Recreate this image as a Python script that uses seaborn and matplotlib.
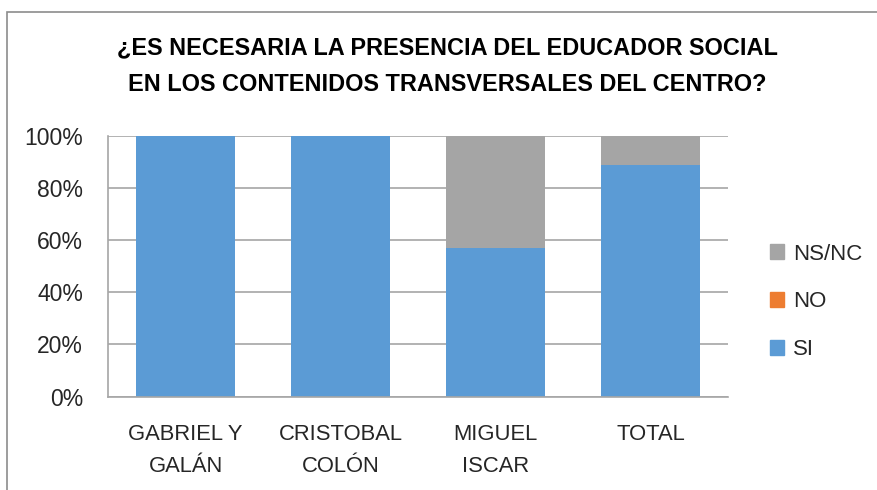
import matplotlib
matplotlib.use("Agg")
import matplotlib.pyplot as plt
import matplotlib.patches as mpatches
import seaborn as sns
import pandas as pd

# data (percent)
centros = ["GABRIEL Y\nGALÁN", "CRISTOBAL\nCOLÓN", "MIGUEL\nISCAR", "TOTAL"]
si = [100, 100, 57.1, 88.9]
no = [0, 0, 0, 0]
nsnc = [0, 0, 42.9, 11.1]
series = ["SI", "NO", "NS/NC"]
colores = {"SI": "#5B9BD5", "NO": "#ED7D31", "NS/NC": "#A5A5A5"}

sns.set_style("white")
plt.rcParams["font.family"] = ["Liberation Sans", "DejaVu Sans"]

df = pd.DataFrame({"centro": centros, "SI": si, "NO": no, "NS/NC": nsnc})
# cumulative tops for stacking
df["top_SI"] = df["SI"]
df["top_NO"] = df["SI"] + df["NO"]
df["top_NS/NC"] = df["SI"] + df["NO"] + df["NS/NC"]

fig = plt.figure(figsize=(8.77, 4.9), dpi=100)
ax = fig.add_axes([0.1232, 0.1904, 0.7070, 0.5327])

# draw tallest first so the lower segments sit on top
for s in reversed(series):
    sns.barplot(data=df, x="centro", y="top_" + s, color=colores[s],
                width=0.64, saturation=1, ax=ax, linewidth=0, zorder=2)

ax.set_ylim(0, 100)
ax.set_xlim(-0.5, 3.5)
ax.set_yticks([0, 20, 40, 60, 80, 100])
ax.set_yticklabels([f"{v}%" for v in [0, 20, 40, 60, 80, 100]], fontsize=16.5, color="#262626")
ax.tick_params(axis="x", labelsize=15.8, colors="#262626", length=0, pad=20)
ax.tick_params(axis="y", length=0, pad=18)
for lbl in ax.get_xticklabels():
    lbl.set_linespacing(1.68)
ax.set_xlabel("")
ax.set_ylabel("")
ax.yaxis.grid(True, color="#A6A6A6", linewidth=1.2, zorder=0)
ax.set_axisbelow(True)
for side in ["top", "right"]:
    ax.spines[side].set_visible(False)
for side in ["left", "bottom"]:
    ax.spines[side].set_color("#A6A6A6")
    ax.spines[side].set_linewidth(1.2)

fig.text(0.51, 0.865, "¿ES NECESARIA LA PRESENCIA DEL EDUCADOR SOCIAL\nEN LOS CONTENIDOS TRANSVERSALES DEL CENTRO?",
         ha="center", va="center", fontsize=16.9, fontweight="bold",
         linespacing=1.75, color="#000000")

handles = [mpatches.Patch(color=colores[s], label=s) for s in reversed(series)]
fig.legend(handles=handles, loc="center left", bbox_to_anchor=(0.855, 0.384),
           frameon=False, fontsize=16, handlelength=0.65, handleheight=0.65,
           handletextpad=0.4, labelspacing=1.2, labelcolor="#262626")

# chart frame
fig.patches.append(mpatches.Rectangle((7 / 877, -0.05), 1.2, 0.05 + 1 - 12 / 490,
                                      transform=fig.transFigure, fill=False,
                                      edgecolor="#8C8C8C", linewidth=1.2))

fig.savefig("out.png", dpi=100)
